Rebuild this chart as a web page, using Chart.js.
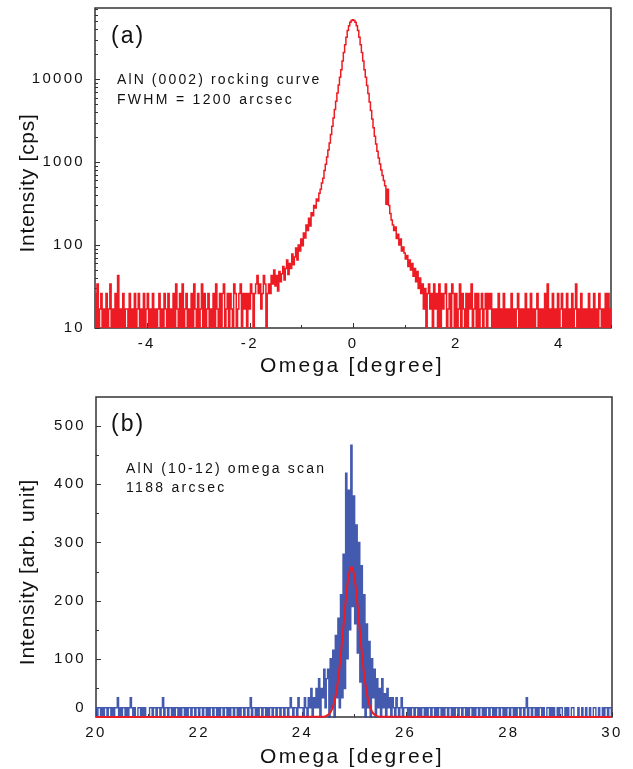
<!DOCTYPE html>
<html>
<head>
<meta charset="utf-8">
<script src="https://cdn.jsdelivr.net/npm/chart.js@4.4.0/dist/chart.umd.min.js"></script>
<style>
  html, body { margin: 0; padding: 0; background: #fff; }
  #wrap { position: relative; width: 633px; height: 769px; }
  .panel { position: absolute; left: 0; width: 633px; }
  #boxA { top: 0; height: 380px; }
  #boxB { top: 380px; height: 389px; }
</style>
</head>
<body>
<div id="wrap">
  <div class="panel" id="boxA"><canvas id="rockingChart"></canvas></div>
  <div class="panel" id="boxB"><canvas id="omegaChart"></canvas></div>
</div>
<script>
// (a) AlN (0002) rocking curve, omega -5..5 deg, one reading every 0.025 deg
const rockStart = -5;
const rockStep = 0.025;
const rockCps = [
  26,9,34,9,17,26,9,17,9,26,9,17,34,9,17,9,26,9,43,9,
  17,9,26,9,17,17,9,26,9,17,9,26,9,17,26,9,17,9,26,9,
  17,26,9,17,9,26,9,17,9,17,26,9,17,9,26,17,9,26,9,17,
  9,26,9,34,17,9,26,9,34,9,17,26,9,17,9,26,9,34,17,9,
  26,9,17,34,9,26,9,17,26,9,17,9,26,9,34,17,9,26,9,26,
  34,9,17,26,9,26,17,9,34,26,9,17,26,34,9,26,17,26,9,26,
  17,34,26,9,26,34,43,26,34,17,26,43,34,9,26,34,26,43,34,50,
  32,43,28,48,36,45,55,38,52,66,44,60,52,78,58,72,92,66,100,85,
  118,98,140,122,175,150,210,170,245,225,300,280,360,340,420,470,560,640,790,940,
  1150,1400,1700,2150,2700,3400,4300,5400,6800,8500,10500,13000,16500,21000,26000,32000,38500,44000,48500,51000,
  52000,51000,48500,44000,38500,32000,26000,21000,16500,13000,10500,8400,6700,5300,4200,3300,2600,2050,1650,1350,
  1120,950,800,690,600,520,310,470,300,240,200,175,150,165,120,135,100,118,85,95,
  80,68,75,55,66,50,60,42,52,36,48,30,40,26,34,17,30,9,26,34,
  17,26,9,34,17,26,9,34,9,26,17,26,34,9,17,26,9,34,26,9,
  26,9,17,34,9,26,17,9,26,9,26,17,34,9,17,26,9,26,9,17,
  26,9,17,26,9,26,17,26,9,17,9,17,9,26,9,17,9,26,9,17,
  9,17,9,26,9,17,9,17,26,9,17,9,17,9,26,9,17,9,26,9,
  17,9,17,26,9,17,9,17,9,26,9,34,9,17,9,26,9,17,9,26,
  9,17,26,9,17,9,26,9,17,9,26,9,17,34,9,17,9,26,9,17,
  9,17,9,26,9,17,9,26,9,17,9,26,17,9,17,9,26,9,26,9,
  17
];
const rockXTicks = [-4, -2, 0, 2, 4];
const rockXMinor = [-5, -3, -1, 1, 3, 5];
const rockYTicks = [10, 100, 1000, 10000];
const rockYMinor = [20,30,40,50,60,70,80,90,200,300,400,500,600,700,800,900,
  2000,3000,4000,5000,6000,7000,8000,9000,20000,30000,40000,50000,60000,70000];

// (b) AlN (10-12) omega scan, omega 20..30 deg, one reading every 0.025 deg
const scanStart = 20;
const scanStep = 0.025;
const scanCounts = [
  16,0,16,16,0,16,0,16,16,0,16,16,0,16,0,16,16,33,0,16,
  0,16,16,0,16,0,16,33,16,0,16,0,0,16,16,0,16,0,16,0,
  0,0,16,16,0,16,16,0,16,16,0,16,33,0,16,16,0,16,16,0,
  16,0,16,16,0,16,0,16,16,0,16,0,16,16,0,16,16,0,16,16,
  0,16,16,0,16,16,0,16,0,16,16,0,16,16,0,16,0,16,16,0,
  16,16,0,16,0,16,16,0,16,16,0,16,0,16,16,0,16,16,0,16,
  33,0,16,16,0,16,0,16,16,0,16,16,0,16,0,16,16,0,16,16,
  0,16,16,0,16,16,0,16,16,0,16,33,16,0,16,16,0,33,16,16,
  16,0,33,16,0,33,16,49,0,33,16,49,16,66,0,49,33,82,16,66,
  82,0,100,16,115,0,140,33,170,16,210,33,280,49,419,100,390,150,467,190,
  380,160,330,110,300,60,260,16,210,0,160,16,130,0,100,33,82,0,66,16,
  49,0,66,16,40,0,49,16,33,0,33,16,0,33,16,0,16,33,0,16,
  16,16,0,16,0,16,16,0,16,16,0,16,0,16,16,0,16,0,16,16,
  0,16,16,0,16,0,16,16,0,16,0,16,16,0,16,16,0,16,0,16,
  16,0,16,16,0,16,16,0,16,0,16,16,0,16,0,16,16,0,16,16,
  0,16,0,16,16,0,16,16,0,16,0,16,16,0,16,16,0,16,0,16,
  16,0,16,16,0,16,0,16,16,0,16,16,0,16,33,0,16,16,0,16,
  16,0,16,0,16,16,0,16,0,0,16,16,0,16,0,16,0,0,16,0,
  16,16,0,0,16,0,16,0,0,16,16,0,0,0,16,0,0,16,0,0,
  16,0,0,16,0,0,16,16,0,0,16,0,0,16,0,16,16,0,16,16,
  0
];
// gaussian fit
const fitOmega = [20, 24.4, 24.45, 24.5, 24.55, 24.6, 24.65, 24.7, 24.75, 24.8, 24.85, 24.9, 24.95,
  25.0, 25.05, 25.1, 25.15, 25.2, 25.25, 25.3, 25.35, 25.4, 25.45, 25.5, 30];
const fitValue = [0, 0.4, 1.4, 3.8, 9, 20, 40, 70, 112, 161, 210, 245, 258,
  245, 210, 161, 112, 70, 40, 20, 9, 3.8, 1.4, 0.4, 0];
const scanXTicks = [20, 22, 24, 26, 28, 30];
const scanXMinor = [21, 23, 25, 27, 29];
const scanYTicks = [0, 100, 200, 300, 400, 500];
const scanYMinor = [50, 150, 250, 350, 450];

const RED = '#ed1c24';
const BLUE = 'rgba(48, 72, 165, 0.9)';
const FONT = 'Liberation Sans, Arial, Helvetica, sans-serif';
const INK = '#111';

// frame, inward ticks and the free text of each panel
const panelDecor = {
  id: 'panelDecor',
  beforeDraw(chart) {
    chart.ctx.letterSpacing = '2.3px';
  },
  beforeDatasetsDraw(chart, args, opts) {
    const { ctx, chartArea: a, scales } = chart;
    ctx.save();
    ctx.strokeStyle = '#333';
    ctx.lineWidth = 1.5;
    ctx.strokeRect(a.left, a.top, a.right - a.left, a.bottom - a.top);
    ctx.lineWidth = 1;
    ctx.beginPath();
    const tick = (vals, len, horiz) => vals.forEach(v => {
      if (horiz) {
        const p = Math.round(scales.x.getPixelForValue(v)) + 0.5;
        ctx.moveTo(p, a.bottom); ctx.lineTo(p, a.bottom - len);
      } else {
        const p = Math.round(scales.y.getPixelForValue(v)) + 0.5;
        ctx.moveTo(a.left, p); ctx.lineTo(a.left + len, p);
      }
    });
    tick(opts.xMajor, 5, true);
    tick(opts.xMinor, 3, true);
    tick(opts.yMajor, 5, false);
    tick(opts.yMinor, 3, false);
    ctx.stroke();
    ctx.restore();
  },
  afterDraw(chart, args, opts) {
    const ctx = chart.ctx;
    ctx.save();
    ctx.fillStyle = INK;
    ctx.textAlign = 'left';
    ctx.textBaseline = 'alphabetic';
    opts.labels.forEach(l => {
      ctx.font = l.size + 'px ' + FONT;
      ctx.letterSpacing = l.spacing + 'px';
      ctx.fillText(l.text, l.x, l.y);
    });
    ctx.textAlign = 'center';
    ctx.textBaseline = 'middle';
    ctx.font = '21px ' + FONT;
    ctx.letterSpacing = '2.3px';
    ctx.fillText(opts.xTitle.text, opts.xTitle.x, opts.xTitle.y);
    ctx.letterSpacing = '0.7px';
    ctx.translate(opts.yTitle.x, opts.yTitle.y);
    ctx.rotate(-Math.PI / 2);
    ctx.fillText(opts.yTitle.text, 0, 0);
    ctx.restore();
  }
};

const tickFont = { family: FONT, size: 15 };
// fixed axis boxes so the plot areas land where the figure has them
const fixY = w => s => { s.width = w; s.paddingTop = 0; s.paddingBottom = 0; };
const fixX = h => s => { s.height = h; s.paddingLeft = 0; s.paddingRight = 0; };

new Chart(document.getElementById('rockingChart'), {
  type: 'line',
  data: {
    datasets: [{
      data: rockCps.map((v, i) => ({ x: rockStart + i * rockStep, y: v })),
      borderColor: RED,
      borderWidth: 1.5,
      pointRadius: 0,
      stepped: 'middle',
    }],
  },
  options: {
    responsive: true,
    maintainAspectRatio: false,
    animation: false,
    layout: { padding: { top: 8, right: 22, left: 0, bottom: 0 } },
    plugins: {
      legend: { display: false },
      tooltip: { enabled: false },
      panelDecor: {
        xMajor: rockXTicks, xMinor: rockXMinor, yMajor: rockYTicks, yMinor: rockYMinor,
        labels: [
          { text: '(a)', x: 111, y: 43, size: 23, spacing: 2 },
          { text: 'AlN (0002) rocking curve', x: 117, y: 84, size: 14, spacing: 2.1 },
          { text: 'FWHM = 1200 arcsec', x: 117, y: 104, size: 14, spacing: 2.3 },
        ],
        xTitle: { text: 'Omega [degree]', x: 352, y: 366 },
        yTitle: { text: 'Intensity [cps]', x: 28, y: 183 },
      },
    },
    scales: {
      x: {
        type: 'linear', min: -5, max: 5,
        grid: { display: false, drawTicks: false },
        border: { display: false },
        afterBuildTicks: s => { s.ticks = rockXTicks.map(v => ({ value: v })); },
        afterFit: fixX(52),
        ticks: { font: tickFont, color: INK, padding: 7, maxRotation: 0, callback: v => String(v) },
      },
      y: {
        type: 'logarithmic', min: 10, max: 72000,
        grid: { display: false, drawTicks: false },
        border: { display: false },
        afterBuildTicks: s => { s.ticks = rockYTicks.map(v => ({ value: v })); },
        afterFit: fixY(95),
        ticks: { font: tickFont, color: INK, padding: 10, callback: v => String(v) },
      },
    },
  },
  plugins: [panelDecor],
});

new Chart(document.getElementById('omegaChart'), {
  type: 'line',
  data: {
    datasets: [
      {
        data: scanCounts.map((v, i) => ({ x: scanStart + i * scanStep, y: v })),
        borderColor: BLUE,
        borderWidth: 1.4,
        pointRadius: 0,
        stepped: 'middle',
        order: 1,
        clip: 2,
      },
      {
        data: fitOmega.map((o, i) => ({ x: o, y: fitValue[i] })),
        borderColor: RED,
        borderWidth: 2,
        pointRadius: 0,
        tension: 0.3,
        order: 0,
        clip: 3,
      },
    ],
  },
  options: {
    responsive: true,
    maintainAspectRatio: false,
    animation: false,
    layout: { padding: { top: 17, right: 21, left: 0, bottom: 0 } },
    plugins: {
      legend: { display: false },
      tooltip: { enabled: false },
      panelDecor: {
        xMajor: scanXTicks, xMinor: scanXMinor, yMajor: scanYTicks, yMinor: scanYMinor,
        labels: [
          { text: '(b)', x: 111, y: 51, size: 23, spacing: 2 },
          { text: 'AlN (10-12) omega scan', x: 126, y: 93, size: 14, spacing: 2.2 },
          { text: '1188 arcsec', x: 126, y: 112, size: 14, spacing: 2.3 },
        ],
        xTitle: { text: 'Omega [degree]', x: 352, y: 377 },
        yTitle: { text: 'Intensity [arb. unit]', x: 28, y: 192 },
      },
    },
    scales: {
      x: {
        type: 'linear', min: 20, max: 30,
        grid: { display: false, drawTicks: false },
        border: { display: false },
        afterBuildTicks: s => { s.ticks = scanXTicks.map(v => ({ value: v })); },
        afterFit: fixX(52),
        ticks: { font: tickFont, color: INK, padding: 7, maxRotation: 0, callback: v => String(v) },
      },
      y: {
        type: 'linear', min: 0, max: 550,
        grid: { display: false, drawTicks: false },
        border: { display: false },
        afterBuildTicks: s => { s.ticks = scanYTicks.map(v => ({ value: v })); },
        afterFit: fixY(96),
        ticks: { font: tickFont, color: INK, padding: 10, callback: v => (v === 0 ? ['0', ''] : String(v)) },
      },
    },
  },
  plugins: [panelDecor],
});
</script>
</body>
</html>
